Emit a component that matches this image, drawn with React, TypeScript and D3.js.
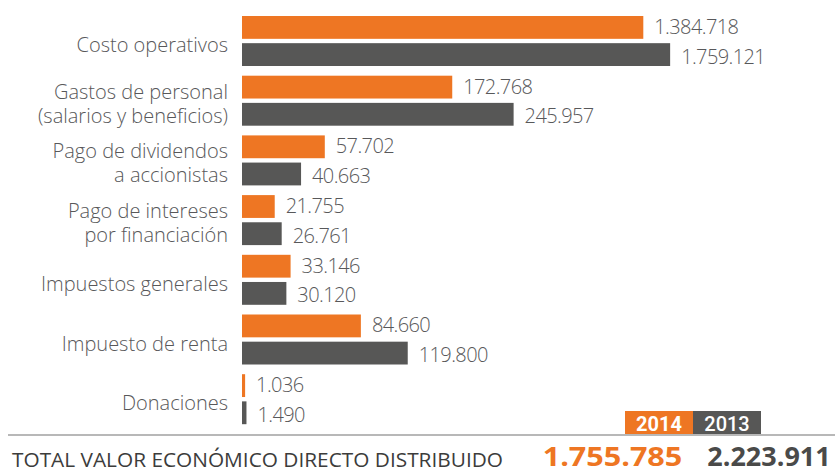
import * as React from 'react';
import * as d3 from 'd3';

const WIDTH = 835;
const HEIGHT = 470;

const categories = [
  'Costo operativos',
  'Gastos de personal\n(salarios y beneficios)',
  'Pago de dividendos\na accionistas',
  'Pago de intereses\npor financiación',
  'Impuestos generales',
  'Impuesto de renta',
  'Donaciones',
];
const years = ['2014', '2013'];
const values2014 = [1384718, 172768, 57702, 21755, 33146, 84660, 1036];
const values2013 = [1759121, 245957, 40663, 26761, 30120, 119800, 1490];
const totals = [1755785, 2223911];
const totalLabel = 'TOTAL VALOR ECONÓMICO DIRECTO DISTRIBUIDO';

// the infographic uses a broken (piecewise) axis, not a linear one
const scaleBreaks = [0, 1500, 60000, 120000, 250000, 1400000, 1800000];

const ORANGE = '#ee7623';
const GREY = '#575756';
const TEXT = '#58585a';
const FONT = '"Open Sans", sans-serif';

const locale = d3.formatLocale({ decimal: ',', thousands: '.', grouping: [3], currency: ['$', ''] });
const fmt = locale.format(',d');

const left = 242;
const x = d3
  .scaleLinear()
  .domain(scaleBreaks)
  .range([0, 4.5, 86, 166, 275, 403, 431].map(d => left + d));

const y = d3
  .scaleBand()
  .domain(categories)
  .range([16, 424.2])
  .paddingInner(0.1625);

const ySub = d3
  .scaleBand()
  .domain(years)
  .range([0, y.bandwidth()])
  .paddingInner(0.16);

const series = [
  { year: '2014', values: values2014, color: ORANGE, labelDy: 6.5 },
  { year: '2013', values: values2013, color: GREY, labelDy: 9 },
];

export default function App() {
  React.useEffect(() => {
    document.body.style.margin = '0';
  }, []);

  const legendX = d3.scaleBand().domain(years).range([625, 761]);

  return (
    <svg width={WIDTH} height={HEIGHT} style={{ display: 'block' }} fontFamily={FONT}>
      <rect width={WIDTH} height={HEIGHT} fill="#fff" />

      {categories.map(cat => {
        const lines = cat.split('\n');
        const cy = (y(cat) as number) + y.bandwidth() / 2;
        return (
          <text
            key={cat}
            x={228}
            textAnchor="end"
            fontSize={20}
            fontWeight={300}
            fill={TEXT}
          >
            {lines.length === 1 ? (
              <tspan x={228} y={cy + 11}>{lines[0]}</tspan>
            ) : (
              lines.map((l, i) => (
                <tspan key={i} x={228} y={cy - 2 + i * 24}>{l}</tspan>
              ))
            )}
          </text>
        );
      })}

      {series.map(s => (
        <g key={s.year}>
          {s.values.map((v, i) => {
            const by = (y(categories[i]) as number) + (ySub(s.year) as number);
            return (
              <g key={i}>
                <rect x={left} y={by} width={x(v) - left} height={ySub.bandwidth()} fill={s.color} />
                <text
                  x={x(v) + 11}
                  y={by + ySub.bandwidth() / 2 + s.labelDy}
                  fontSize={20}
                  fontWeight={300}
                  letterSpacing={-0.6}
                  fill={TEXT}
                >
                  {fmt(v)}
                </text>
              </g>
            );
          })}
        </g>
      ))}

      {years.map((yr, i) => (
        <g key={yr}>
          <rect
            x={legendX(yr)}
            y={411}
            width={legendX.bandwidth()}
            height={23}
            fill={i === 0 ? ORANGE : GREY}
          />
          <text
            x={(legendX(yr) as number) + legendX.bandwidth() / 2}
            y={430.5}
            textAnchor="middle"
            fontSize={20}
            fontWeight={i === 0 ? 700 : 500}
            fill="#fff"
            fontFamily="Roboto, sans-serif"
          >
            {yr}
          </text>
        </g>
      ))}

      <line x1={8} x2={WIDTH} y1={435} y2={435} stroke="#b8b8b8" strokeWidth={2} />

      <text
        x={12}
        y={467.3}
        fontSize={19.5}
        fontWeight={500}
        fill="#3c3c3b"
        textLength={491}
        lengthAdjust="spacingAndGlyphs"
      >
        {totalLabel}
      </text>
      <text
        x={542.7}
        y={466}
        fontSize={27}
        fontWeight={700}
        fill={ORANGE}
        textLength={139.6}
        lengthAdjust="spacingAndGlyphs"
      >
        {fmt(totals[0])}
      </text>
      <text
        x={707.3}
        y={465.5}
        fontSize={27}
        fontWeight={700}
        fill="#4a4a49"
        textLength={123.4}
        lengthAdjust="spacingAndGlyphs"
      >
        {fmt(totals[1])}
      </text>
    </svg>
  );
}
